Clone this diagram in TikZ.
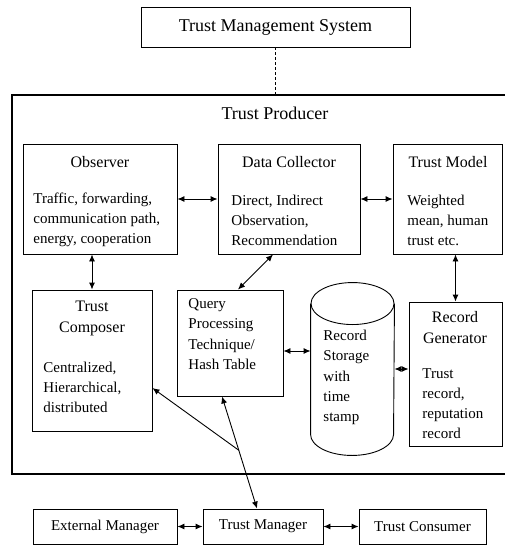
\documentclass[tikz,border=0pt]{standalone}
\usepackage{fontspec}
\setmainfont{Liberation Serif}
\usetikzlibrary{arrows.meta,calc}

\tikzset{every picture/.style={line width=0.9pt}}
\tikzset{
  box/.style={draw, inner sep=0pt},
  ttl/.style={inner sep=0pt, align=center, font=\fontsize{16}{21}\selectfont},
  txt/.style={inner sep=0pt, anchor=west, align=left, font=\fontsize{15}{20}\selectfont},
  >={Latex[length=7pt,width=6pt]}
}

\begin{document}
\begin{tikzpicture}[x=1pt,y=1pt,yscale=-1]
\useasboundingbox (0,0) rectangle (504,546);

%Rect [id:tms]
\node[box, minimum width=269, minimum height=40, font=\fontsize{18}{22}\selectfont] (tms) at (275.5,27) {Trust Management System};

%Rect [id:prod]
\node[box, line width=1.1pt, minimum width=498, minimum height=379] (prod) at (261,284.5) {};
\node[inner sep=0pt, font=\fontsize{18}{22}\selectfont] (prodtitle) at (275,113) {Trust Producer};

%Rect [id:obs]
\node[box, minimum width=154, minimum height=110] (obs) at (100,199) {};
\node[ttl] (obstitle) at (100,162) {Observer};
\node[txt] (obstext) at (33,220) {Traffic, forwarding,\\communication path,\\energy, cooperation};

%Rect [id:dc]
\node[box, minimum width=142, minimum height=110] (dc) at (289,199) {};
\node[ttl] (dctitle) at (289,162) {Data Collector};
\node[txt] (dctext) at (231,220) {Direct, Indirect\\Observation,\\Recommendation};

%Rect [id:tmod]
\node[box, minimum width=109, minimum height=110] (tmod) at (447.5,199) {};
\node[ttl] (tmodtitle) at (448,162) {Trust Model};
\node[txt] (tmodtext) at (407,220) {Weighted\\mean, human\\trust etc.};

%Rect [id:comp]
\node[box, minimum width=120, minimum height=141] (comp) at (92,360.5) {};
\node[ttl] (comptitle) at (92,318.5) {Trust\\Composer};
\node[txt] (comptext) at (43,387) {Centralized,\\Hierarchical,\\distributed};

%Rect [id:query]
\node[box, minimum width=106, minimum height=106] (query) at (230,343) {};
\node[txt, font=\fontsize{15}{20.5}\selectfont] (querytext) at (188,334) {Query\\Processing\\Technique/\\Hash Table};

%Cylinder [id:store]
\node[inner sep=0pt, minimum width=83, minimum height=172] (store) at (352.5,369) {};
\draw ($(store.north)+(0,21)$) ellipse [x radius=41.5, y radius=21];
\draw ($(store.north west)+(0,21)$) -- ($(store.south west)+(0,-21)$)
  arc [start angle=180, end angle=0, x radius=41.5, y radius=21]
  -- ($(store.north east)+(0,21)$);
\node[txt, font=\fontsize{15}{20.25}\selectfont] (storetext) at (323,377.5) {Record\\Storage\\with\\time\\stamp};

%Rect [id:rgen]
\node[box, minimum width=93, minimum height=144] (rgen) at (455.5,374) {};
\node[ttl] (rgentitle) at (455,327.5) {Record\\Generator};
\node[txt] (rgentext) at (422,403.5) {Trust\\record,\\reputation\\record};

%Bottom row
\node[box, minimum width=144, minimum height=35, font=\fontsize{15}{18}\selectfont] (em) at (105,526.5) {External Manager};
\node[box, minimum width=120, minimum height=35, font=\fontsize{15}{18}\selectfont] (tmgr) at (263,526.5) {Trust Manager};
\node[box, minimum width=127, minimum height=35, font=\fontsize{15}{18}\selectfont] (tc) at (422.5,526.5) {Trust Consumer};

%Connectors
\draw[densely dashed] (tms.south) -- (tms.south |- prod.north);
\draw[<->] (obs.east) -- (dc.west);
\draw[<->] (dc.east) -- (tmod.west);
\draw[<->] (obs.south -| comp.north) -- (comp.north);
\draw[<->] ($(dc.south)+(-16,0)$) -- ($(query.north)+(8,0)$);
\coordinate (qs) at ($(query.east)+(0,8)$);
\draw[<->] (qs) -- (qs -| store.west);
\draw[<->] (tmod.south -| rgen.north) -- (rgen.north);
\draw[<->] (store.east) -- (store.east -| rgen.west);
\coordinate (qb) at ($(query.south)+(-8,0)$);
\coordinate (mt) at ($(tmgr.north)+(-6,0)$);
\draw[<->] (qb) -- (mt);
\coordinate (meet) at ($(qb)!0.48!(mt)$);
\draw[->] (meet) -- ($(comp.east)+(0,27.5)$);
\draw[<->] (em) -- (tmgr);
\draw[<->] (tmgr) -- (tc);

\end{tikzpicture}
\end{document}
